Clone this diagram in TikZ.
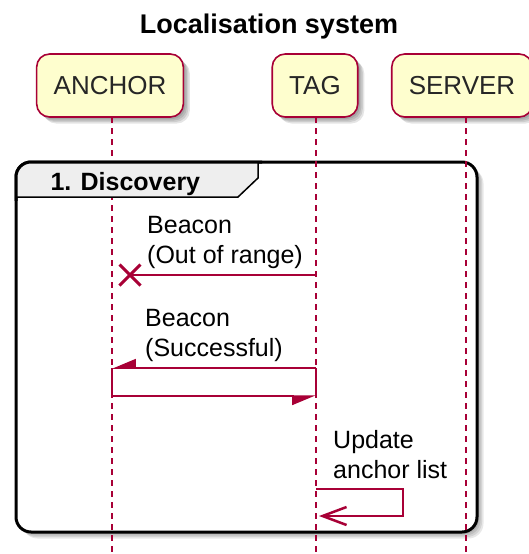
\documentclass[tikz,border=0pt]{standalone}
\usepackage{fontspec}
\setmainfont{Liberation Sans}
\usetikzlibrary{shadows,arrows.meta,shapes.misc}
\definecolor{umlred}{HTML}{A80036}
\definecolor{umlfill}{HTML}{FEFECE}
\definecolor{tabgray}{HTML}{EEEEEE}
\tikzset{
  softshadow/.style={
    general shadow={fill=black,opacity=.1,shadow xshift=2pt,shadow yshift=-2pt},
    general shadow={fill=black,opacity=.1,shadow xshift=3.5pt,shadow yshift=-3.5pt},
    general shadow={fill=black,opacity=.1,shadow xshift=5pt,shadow yshift=-5pt},
    general shadow={fill=black,opacity=.1,shadow xshift=6.5pt,shadow yshift=-6.5pt}},
  participant/.style={draw=umlred,fill=umlfill,line width=1.6pt,rounded corners=13pt,
    minimum height=63pt,inner xsep=17pt,font=\fontsize{26}{30}\selectfont,text=black!85,softshadow},
  lifeline/.style={umlred,line width=1.5pt,dash pattern=on 6pt off 5pt},
  msg/.style={umlred,line width=1.5pt},
  msgtext/.style={font=\fontsize{25}{30}\selectfont,align=left,inner sep=0pt,anchor=base west},
  groupframe/.style={black,line width=3pt,rounded corners=15pt},
  halfhead/.style={-{Triangle[harpoon,swap,length=22pt,width=18pt]}},
}
\begin{document}
\begin{tikzpicture}[x=1pt,y=-1pt]
\useasboundingbox (0,0) rectangle (528,554);
\fill[white] (0,0) rectangle (528,554);

% title
\node[font=\fontsize{27}{32}\selectfont\bfseries,anchor=base] (title) at (269,33.5) {Localisation system};

% group frame with a soft shadow
\foreach \d in {2,3.5,5,6.5}
  \fill[black,opacity=.09,rounded corners=15pt] (16+\d,162+\d) rectangle (477+\d,532+\d);
\draw[groupframe,fill=white] (16,162) rectangle (477,532);

% participants
\node[participant] (anchor) at (110,85.5) {ANCHOR};
\node[participant] (tag) at (315,85.5) {TAG};
\node[participant] (server) at (462,85.5) {SERVER};

% lifelines
\coordinate (aTop) at (112,117); \coordinate (aBot) at (112,554);
\coordinate (tTop) at (316,117); \coordinate (tBot) at (316,554);
\coordinate (sTop) at (466,117); \coordinate (sBot) at (466,554);
\draw[lifeline] (aTop) -- (aBot);
\draw[lifeline] (tTop) -- (tBot);
\draw[lifeline] (sTop) -- (sBot);

% group header tab
\begin{scope}
  \clip[rounded corners=15pt] (16,162) rectangle (477,532);
  \fill[tabgray] (0,150) -- (258,150) -- (258,178) -- (238,197) -- (0,197) -- cycle;
\end{scope}
\draw[black,line width=1.5pt] (258,162) -- (258,178) -- (238,197) -- (16,197);
\begin{scope}
  \clip (0,140) rectangle (262,200);
  \draw[groupframe] (16,162) rectangle (477,532);
\end{scope}
\node[font=\fontsize{25}{30}\selectfont\bfseries,anchor=base west] (grp) at (47,190) {1. Discovery};

% lost beacon
\coordinate (m1t) at (316,275);
\node[cross out,draw=umlred,line width=3pt,minimum size=18pt,inner sep=0pt] (lost) at (130,275) {};
\draw[msg] (m1t) -- (lost.center);
\node[msgtext] (t1) at (147,263) {Beacon\\(Out of range)};

% successful beacon and reply
\coordinate (m2t) at (316,368); \coordinate (m2a) at (112,368);
\coordinate (m3a) at (112,396); \coordinate (m3t) at (316,396);
\draw[msg] (m2a) -- (m3a);
\draw[msg] (m2t) -- (m3t);
\draw[msg,halfhead] (m2t) -- (m2a);
\node[msgtext] (t2) at (145,356) {Beacon\\(Successful)};
\draw[msg,halfhead] (m3a) -- (m3t);

% self message
\coordinate (s1) at (316,489); \coordinate (s2) at (319,516);
\draw[msg,-{Straight Barb[length=24pt,width=18pt,line width=2.5pt]}] (s1) -- ++(87,0) |- (s2);
\node[msgtext] (t3) at (333,478) {Update\\anchor list};
\end{tikzpicture}
\end{document}
